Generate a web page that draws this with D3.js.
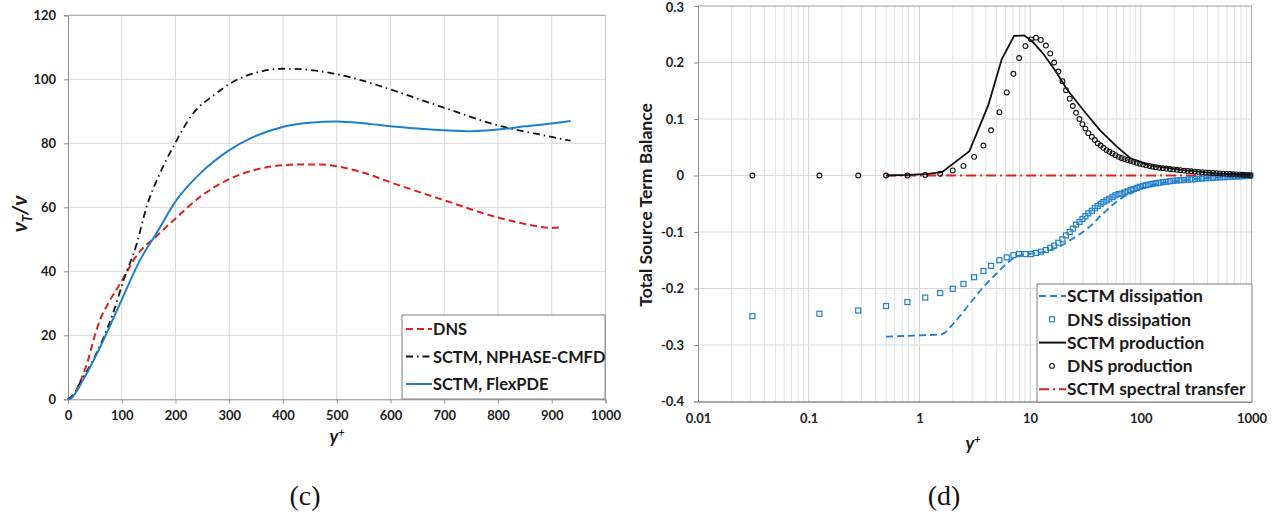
<!DOCTYPE html>
<html>
<head>
<meta charset="utf-8">
<script src="https://cdn.jsdelivr.net/npm/d3@7"></script>
<style>
  html, body { margin: 0; padding: 0; background: #fff; }
  svg { display: block; }
  .tick text { font-family: Lato, "Liberation Sans", sans-serif; font-weight: 700; font-size: 13px; fill: #222; }
  .lbl { font-family: Lato, "Liberation Sans", sans-serif; font-weight: 700; fill: #1a1a1a; }
</style>
</head>
<body>
<svg id="chart" width="1279" height="518"></svg>
<script>
// ---------- Panel (c): eddy viscosity ratio vs y+ ----------
const dnsNuY   = [0, 10, 20, 35, 50, 60, 75, 100, 128, 165, 200, 250, 300, 370, 430, 470, 500, 550, 600, 700, 800, 850, 900, 920];
const dnsNuV   = [0, 1, 4.5, 11, 20, 25, 30, 37, 45, 51, 56.5, 63.8, 68.8, 72.5, 73.4, 73.4, 72.8, 70.8, 67.8, 62.2, 56.8, 54.8, 53.6, 53.8];

const nphaseY  = [0, 10, 22, 53, 84, 103, 128, 146, 171, 196, 233, 271, 308, 358, 401, 432, 457, 494, 550, 600, 700, 800, 900, 935];
const nphaseV  = [0, 1.5, 5, 14.4, 27, 37, 48.7, 60, 70.6, 79, 89.4, 95, 99.3, 102.4, 103.3, 103.2, 102.8, 101.8, 99.5, 96.8, 91.1, 85.6, 82, 80.8];

const flexY    = [0, 5, 28, 60, 97, 134, 165, 202, 246, 296, 345, 401, 450, 500, 550, 600, 650, 700, 750, 800, 850, 900, 935];
const flexV    = [0, 0.3, 6, 16.4, 30, 43.5, 52, 62.3, 70.6, 77.4, 82, 85.2, 86.4, 86.8, 86.3, 85.3, 84.6, 84.1, 83.8, 84.3, 85.3, 86.2, 87];

const leftXTicks = [0, 100, 200, 300, 400, 500, 600, 700, 800, 900, 1000];
const leftYTicks = [0, 20, 40, 60, 80, 100, 120];

// ---------- Panel (d): source term balance vs y+ ----------
const dnsYplus = [0.031, 0.125, 0.28, 0.5, 0.78, 1.13, 1.54, 2.0, 2.5, 3.12, 3.79, 4.44, 5.28, 6.15, 7.07, 7.96, 9.07, 10.2, 11.3, 12.5,
  13.9, 15.2, 16.5, 18.0, 19.6, 21.1, 22.8, 24.3, 26.0, 27.9, 29.7, 31.6, 33.6, 36.1, 38.4, 40.8, 43.4, 46, 49, 52,
  55.5, 59, 63, 67, 71.5, 76, 81, 86, 92, 98, 105, 112, 120, 128, 137, 147, 158, 170, 183, 197,
  212, 228, 246, 265, 286, 308, 332, 358, 386, 416, 448, 482, 518, 556, 596, 638, 682, 728, 776, 826, 876, 926, 976];
const dnsProduction = [0, 0, 0, 0, 0, 0.001, 0.003, 0.009, 0.017, 0.033, 0.053, 0.080, 0.112, 0.147, 0.180, 0.208, 0.229, 0.241, 0.244, 0.240,
  0.230, 0.216, 0.200, 0.184, 0.167, 0.151, 0.136, 0.123, 0.111, 0.100, 0.091, 0.083, 0.075, 0.0685, 0.0627, 0.057, 0.053, 0.049, 0.045, 0.042,
  0.039, 0.036, 0.033, 0.031, 0.029, 0.0275, 0.0258, 0.0242, 0.0225, 0.0208, 0.0193, 0.018, 0.0168, 0.0157, 0.0147, 0.0138, 0.013, 0.0123, 0.0115, 0.0108,
  0.0101, 0.0094, 0.0087, 0.0081, 0.0075, 0.0069, 0.0064, 0.0059, 0.0054, 0.0049, 0.0045, 0.0041, 0.0037, 0.0033, 0.0029, 0.0026, 0.0022, 0.0019, 0.0016, 0.0013, 0.0010, 0.0007, 0.0004];
const dnsDissipation = [-0.249, -0.2447, -0.239, -0.231, -0.224, -0.216, -0.208, -0.2005, -0.192, -0.180, -0.169, -0.160, -0.150, -0.145, -0.141, -0.139, -0.139, -0.139, -0.137, -0.135,
  -0.132, -0.128, -0.124, -0.119, -0.113, -0.106, -0.100, -0.094, -0.087, -0.082, -0.077, -0.072, -0.067, -0.0625, -0.058, -0.054, -0.050, -0.047, -0.044, -0.041,
  -0.038, -0.035, -0.033, -0.032, -0.030, -0.028, -0.026, -0.024, -0.022, -0.020, -0.0185, -0.017, -0.0158, -0.0147, -0.0137, -0.0127, -0.0118, -0.011, -0.0102, -0.0095,
  -0.0088, -0.0083, -0.0080, -0.0074, -0.0068, -0.0063, -0.0058, -0.0053, -0.0048, -0.0044, -0.0040, -0.0036, -0.0033, -0.0030, -0.0027, -0.0024, -0.0021, -0.0018, -0.0015, -0.0012, -0.0009, -0.0006, -0.0003];

const sctmProdY = [0.5, 0.8, 1.2, 1.6, 2.83, 4.2, 5.55, 7.17, 8.83, 10.4, 13.2, 17.4, 21.4, 30.2, 42.9, 60.7, 80, 121, 243, 486, 1000];
const sctmProdV = [0, 0.001, 0.003, 0.006, 0.043, 0.125, 0.206, 0.247, 0.248, 0.238, 0.215, 0.182, 0.153, 0.116, 0.080, 0.051, 0.031, 0.018, 0.0096, 0.0037, 0.0005];

const sctmDissY = [0.5, 1.0, 1.59, 2.03, 2.87, 3.92, 5.0, 6.37, 7.6, 10.7, 14.2, 18.7, 24.6, 32.5, 45.9, 60.7, 80, 121, 243, 486, 1000];
const sctmDissV = [-0.285, -0.283, -0.281, -0.262, -0.226, -0.194, -0.173, -0.153, -0.143, -0.138, -0.134, -0.125, -0.111, -0.095, -0.067, -0.046, -0.032, -0.018, -0.0085, -0.0035, -0.0005];

const transferY = [0.5, 1, 10, 100, 1000];
const transferV = [0, 0, 0, 0, 0];

const rightXTicks = [0.01, 0.1, 1, 10, 100, 1000];
const rightYTicks = [-0.4, -0.3, -0.2, -0.1, 0, 0.1, 0.2, 0.3];

// ---------- styles ----------
const RED = "#d8241f", BLUE = "#1f7fcf", BLACK = "#111", GRID = "#d9d9d9", MINOR = "#e3e3e3", AXIS = "#8c8c8c";

const svg = d3.select("#chart");
const zip = (xs, ys) => xs.map((x, i) => [x, ys[i]]);

// ================= Panel (c) =================
const lx = d3.scaleLinear().domain([0, 1000]).range([68, 605.5]);
const ly = d3.scaleLinear().domain([0, 120]).range([399.3, 15.3]);
const gL = svg.append("g");

// grid
gL.append("g").selectAll("line").data(leftXTicks.slice(1)).join("line")
  .attr("x1", d => lx(d)).attr("x2", d => lx(d)).attr("y1", ly(0)).attr("y2", ly(120))
  .attr("stroke", GRID).attr("stroke-width", 1);
gL.append("g").selectAll("line").data(leftYTicks.slice(1)).join("line")
  .attr("x1", lx(0)).attr("x2", lx(1000)).attr("y1", d => ly(d)).attr("y2", d => ly(d))
  .attr("stroke", GRID).attr("stroke-width", 1);
gL.append("line").attr("x1", lx(0)).attr("x2", lx(1000)).attr("y1", ly(120)).attr("y2", ly(120)).attr("stroke", "#a6a6a6");
gL.append("line").attr("x1", lx(1000)).attr("x2", lx(1000)).attr("y1", ly(0)).attr("y2", ly(120)).attr("stroke", "#c8c8c8");

// axes
const lAxisX = gL.append("g").attr("transform", `translate(0,${ly(0)})`)
  .call(d3.axisBottom(lx).tickValues(leftXTicks).tickSize(4).tickPadding(7).tickFormat(d3.format("d")));
const lAxisY = gL.append("g").attr("transform", `translate(${lx(0)},0)`)
  .call(d3.axisLeft(ly).tickValues(leftYTicks).tickSize(4).tickPadding(8).tickFormat(d3.format("d")));
[lAxisX, lAxisY].forEach(a => { a.select(".domain").attr("stroke", AXIS); a.selectAll(".tick line").attr("stroke", AXIS); });

// curves
const lineL = d3.line().x(d => lx(d[0])).y(d => ly(d[1])).curve(d3.curveMonotoneX);
gL.append("path").attr("d", lineL(zip(dnsNuY, dnsNuV))).attr("fill", "none")
  .attr("stroke", RED).attr("stroke-width", 2).attr("stroke-dasharray", "7,4");
gL.append("path").attr("d", lineL(zip(nphaseY, nphaseV))).attr("fill", "none")
  .attr("stroke", BLACK).attr("stroke-width", 1.8).attr("stroke-dasharray", "7,4,1.5,4");
gL.append("path").attr("d", lineL(zip(flexY, flexV))).attr("fill", "none")
  .attr("stroke", BLUE).attr("stroke-width", 2);

// legend
const legL = gL.append("g");
legL.append("rect").attr("x", 402).attr("y", 315).attr("width", 203).attr("height", 84)
  .attr("fill", "#fff").attr("stroke", "#7f7f7f").attr("stroke-width", 1);
const legLItems = [
  { name: "DNS", color: RED, dash: "7,4", w: 2 },
  { name: "SCTM, NPHASE-CMFD", color: BLACK, dash: "7,4,1.5,4", w: 1.8 },
  { name: "SCTM, FlexPDE", color: BLUE, dash: null, w: 2 }
];
legLItems.forEach((it, i) => {
  const y = 329 + i * 27.5;
  legL.append("line").attr("x1", 406).attr("x2", 432).attr("y1", y).attr("y2", y)
    .attr("stroke", it.color).attr("stroke-width", it.w).attr("stroke-dasharray", it.dash);
  legL.append("text").attr("class", "lbl").attr("x", 433).attr("y", y + 6)
    .attr("font-size", 16.4).text(it.name);
});

// axis titles
gL.append("text").attr("class", "lbl").attr("font-size", 18).attr("font-style", "italic")
  .attr("text-anchor", "middle").attr("x", 337).attr("y", 443)
  .html('y<tspan dy="-7" font-size="11">+</tspan>');
gL.append("text").attr("class", "lbl").attr("font-size", 21).attr("font-style", "italic")
  .attr("text-anchor", "middle").attr("transform", "translate(27,214) rotate(-90)")
  .html('ν<tspan dy="5" font-size="13">T</tspan><tspan dy="-5">/ν</tspan>');

// ================= Panel (d) =================
const rx = d3.scaleLog().domain([0.01, 1000]).range([698, 1251.5]);
const ry = d3.scaleLinear().domain([-0.4, 0.3]).range([401.5, 6]);
const gR = svg.append("g");

// minor log grid
const minor = [];
[0.01, 0.1, 1, 10, 100].forEach(dec => { for (let k = 2; k <= 9; k++) minor.push(dec * k); });
gR.append("g").selectAll("line").data(minor).join("line")
  .attr("x1", d => rx(d)).attr("x2", d => rx(d)).attr("y1", ry(-0.4)).attr("y2", ry(0.3))
  .attr("stroke", MINOR).attr("stroke-width", 1);
gR.append("g").selectAll("line").data(rightXTicks.slice(1)).join("line")
  .attr("x1", d => rx(d)).attr("x2", d => rx(d)).attr("y1", ry(-0.4)).attr("y2", ry(0.3))
  .attr("stroke", "#cfcfcf").attr("stroke-width", 1);
gR.append("g").selectAll("line").data(rightYTicks.slice(1)).join("line")
  .attr("x1", rx(0.01)).attr("x2", rx(1000)).attr("y1", d => ry(d)).attr("y2", d => ry(d))
  .attr("stroke", GRID).attr("stroke-width", 1);
gR.append("line").attr("x1", rx(0.01)).attr("x2", rx(1000)).attr("y1", ry(0.3)).attr("y2", ry(0.3)).attr("stroke", "#b0b0b0");
gR.append("line").attr("x1", rx(1000)).attr("x2", rx(1000)).attr("y1", ry(-0.4)).attr("y2", ry(0.3)).attr("stroke", "#b0b0b0");

const rAxisX = gR.append("g").attr("transform", `translate(0,${ry(-0.4)})`)
  .call(d3.axisBottom(rx).tickValues(rightXTicks).tickSize(0).tickPadding(12).tickFormat(d => String(d)));
const rAxisY = gR.append("g").attr("transform", `translate(${rx(0.01)},0)`)
  .call(d3.axisLeft(ry).tickValues(rightYTicks).tickSize(4).tickPadding(10).tickFormat(d => d === 0 ? "0" : d3.format(".1f")(d).replace("−", "-")));
rAxisX.select(".domain").attr("stroke", "#8c8c8c").attr("stroke-width", 1.6);
rAxisY.select(".domain").attr("stroke", AXIS);
rAxisY.selectAll(".tick line").attr("stroke", AXIS);
// keep the top label inside the page edge
rAxisY.selectAll(".tick text").filter(d => d === 0.3).attr("dy", "0.45em");

// series
const lineR = d3.line().x(d => rx(d[0])).y(d => ry(d[1]));
const lineRs = d3.line().x(d => rx(d[0])).y(d => ry(d[1])).curve(d3.curveMonotoneX);
gR.append("path").attr("d", lineR(zip(transferY, transferV))).attr("fill", "none")
  .attr("stroke", "#e0201b").attr("stroke-width", 2).attr("stroke-dasharray", "10,4,2,4");
gR.append("path").attr("d", lineRs(zip(sctmDissY, sctmDissV))).attr("fill", "none")
  .attr("stroke", BLUE).attr("stroke-width", 1.8).attr("stroke-dasharray", "7,4");
gR.append("g").selectAll("rect").data(zip(dnsYplus, dnsDissipation)).join("rect")
  .attr("x", d => rx(d[0]) - 2.5).attr("y", d => ry(d[1]) - 2.5).attr("width", 5).attr("height", 5)
  .attr("fill", "none").attr("stroke", BLUE).attr("stroke-width", 1.2);
gR.append("path").attr("d", lineR(zip(sctmProdY, sctmProdV))).attr("fill", "none")
  .attr("stroke", BLACK).attr("stroke-width", 1.8);
gR.append("g").selectAll("circle").data(zip(dnsYplus, dnsProduction)).join("circle")
  .attr("cx", d => rx(d[0])).attr("cy", d => ry(d[1])).attr("r", 2.4)
  .attr("fill", "none").attr("stroke", BLACK).attr("stroke-width", 1.1);

// legend
const legR = gR.append("g");
legR.append("rect").attr("x", 1037).attr("y", 284).attr("width", 215).attr("height", 118)
  .attr("fill", "#fff").attr("stroke", "#7f7f7f").attr("stroke-width", 1);
const legRItems = [
  { name: "SCTM dissipation", type: "line", color: BLUE, dash: "7,4" },
  { name: "DNS dissipation", type: "square", color: BLUE },
  { name: "SCTM production", type: "line", color: BLACK, dash: null },
  { name: "DNS production", type: "circle", color: BLACK },
  { name: "SCTM spectral transfer", type: "line", color: "#e0201b", dash: "10,4,2,4" }
];
legRItems.forEach((it, i) => {
  const y = 296 + i * 23.3;
  if (it.type === "line") {
    legR.append("line").attr("x1", 1039).attr("x2", 1066).attr("y1", y).attr("y2", y)
      .attr("stroke", it.color).attr("stroke-width", 2).attr("stroke-dasharray", it.dash);
  } else if (it.type === "square") {
    legR.append("rect").attr("x", 1049.5).attr("y", y - 2.5).attr("width", 5).attr("height", 5)
      .attr("fill", "none").attr("stroke", it.color).attr("stroke-width", 1.2);
  } else {
    legR.append("circle").attr("cx", 1052).attr("cy", y).attr("r", 2.4)
      .attr("fill", "none").attr("stroke", it.color).attr("stroke-width", 1.1);
  }
  legR.append("text").attr("class", "lbl").attr("x", 1067).attr("y", y + 6.2)
    .attr("font-size", 17.4).text(it.name);
});

// axis titles
gR.append("text").attr("class", "lbl").attr("font-size", 18).attr("font-style", "italic")
  .attr("text-anchor", "middle").attr("x", 973).attr("y", 450)
  .html('y<tspan dy="-7" font-size="11">+</tspan>');
gR.append("text").attr("class", "lbl").attr("font-size", 17.5)
  .attr("text-anchor", "middle").attr("transform", "translate(652,205) rotate(-90)")
  .text("Total Source Term Balance");

// panel captions
svg.append("text").attr("x", 305).attr("y", 505).attr("text-anchor", "middle")
  .attr("font-family", "'Liberation Serif', 'DejaVu Serif', serif").attr("font-size", 28).attr("fill", "#111").text("(c)");
svg.append("text").attr("x", 944).attr("y", 505).attr("text-anchor", "middle")
  .attr("font-family", "'Liberation Serif', 'DejaVu Serif', serif").attr("font-size", 28).attr("fill", "#111").text("(d)");
</script>
</body>
</html>
